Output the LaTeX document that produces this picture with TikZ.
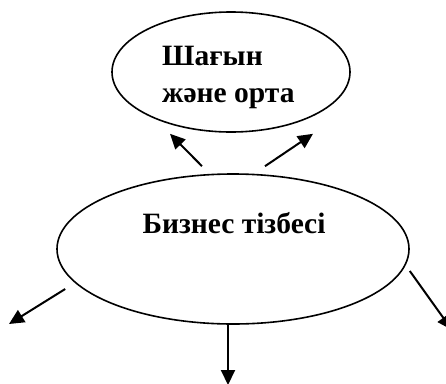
\documentclass[tikz,border=0pt]{standalone}
\usepackage{fontspec}
\setmainfont{Liberation Serif}
\usetikzlibrary{arrows.meta, shapes.geometric}

\begin{document}
\begin{tikzpicture}[x=1pt, y=-1pt]
	% Define style
	\tikzset{
		oval/.style={ellipse, draw=black, line width=1.6pt, inner sep=0pt},
		txt/.style={font=\bfseries\fontsize{29.5}{37}\selectfont, inner sep=0pt, align=left},
		arrow/.style={line width=2pt, -{Triangle[length=15pt, width=14pt]}}
	}
	\useasboundingbox (0,0) rectangle (446,383);

	% Define blocks
	\node (smb) [oval, minimum width=238pt, minimum height=120pt] at (231,72) {};
	\node (smbtext) [txt, anchor=north west] at (162,46) {Шағын\\және орта};
	\node (chain) [oval, minimum width=352pt, minimum height=150pt] at (233,249) {};
	\node (chaintext) [txt] at (234,223) {Бизнес тізбесі};

	% Free ends
	\coordinate (outleft) at (9,324);
	\coordinate (outdown) at (228,385);
	\coordinate (outright) at (452,330);

	% Define arrows
	\draw [arrow] ([xshift=-31pt, yshift=7pt]chain.north) -- ([xshift=-61pt, yshift=-1pt]smb.south);
	\draw [arrow] ([xshift=32pt, yshift=7pt]chain.north) -- ([xshift=82pt, yshift=-1pt]smb.south);
	\draw [arrow] ([xshift=9pt, yshift=-40pt]chain.west) -- (outleft);
	\draw [arrow] ([xshift=-5pt]chain.south) -- (outdown);
	\draw [arrow] ([yshift=-22pt]chain.east) -- (outright);
\end{tikzpicture}
\end{document}
